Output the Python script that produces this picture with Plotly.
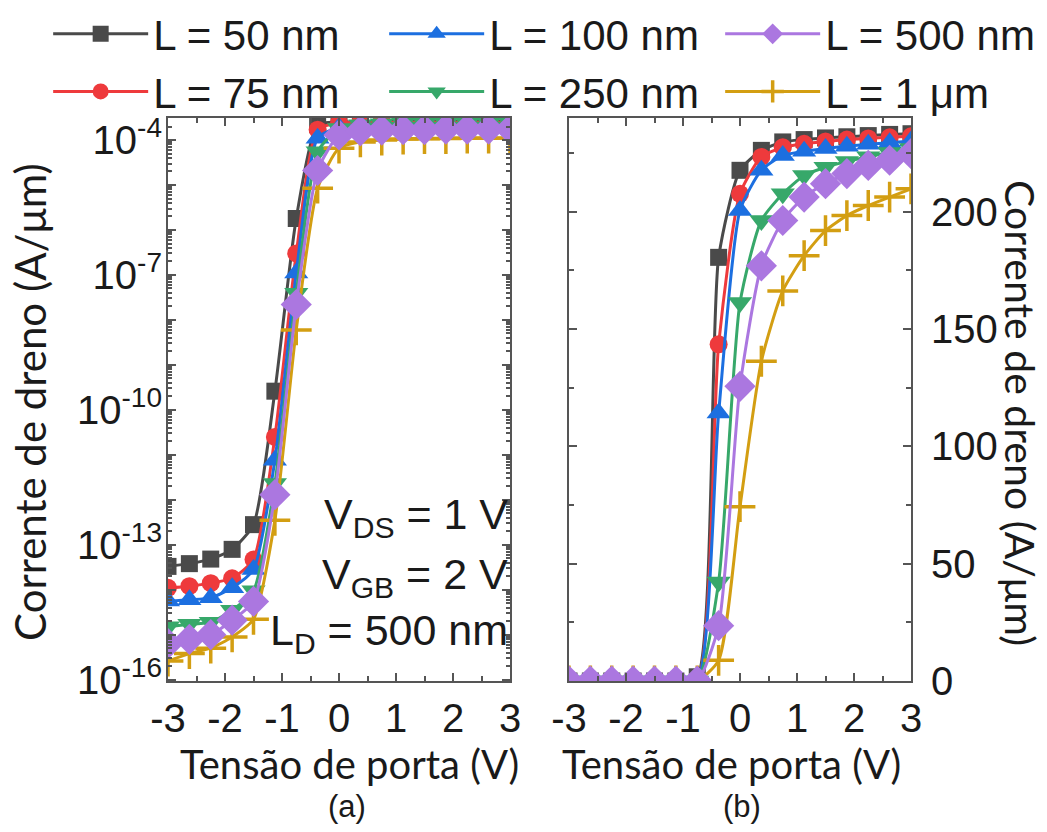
import plotly.graph_objects as go

# Gate voltage sweep (V) shared by both panels
vgs = [-3, -2.625, -2.25, -1.875, -1.5, -1.125, -0.75, -0.375, 0,
       0.375, 0.75, 1.125, 1.5, 1.875, 2.25, 2.625, 3]

labels = ["L = 50 nm", "L = 75 nm", "L = 100 nm", "L = 250 nm", "L = 500 nm", "L = 1 μm"]

# (a) drain current, log scale (A/um)
ids_log_50 = [3.3e-14, 3.8e-14, 4.8e-14, 7.9e-14, 2.8e-13, 2.6e-10, 1.8e-6, 2.2e-4, 2.5e-4,
              2.55e-4, 2.6e-4, 2.6e-4, 2.6e-4, 2.6e-4, 2.6e-4, 2.6e-4, 2.6e-4]
ids_log_75 = [1.1e-14, 1.2e-14, 1.4e-14, 1.8e-14, 4.7e-14, 2.5e-11, 3.0e-7, 1.7e-4, 2.4e-4,
              2.45e-4, 2.5e-4, 2.5e-4, 2.5e-4, 2.5e-4, 2.5e-4, 2.5e-4, 2.5e-4]
ids_log_100 = [5.6e-15, 6.0e-15, 6.6e-15, 1.1e-14, 2.8e-14, 7.6e-12, 1.1e-7, 1.1e-4, 1.9e-4,
               2.2e-4, 2.25e-4, 2.3e-4, 2.3e-4, 2.3e-4, 2.3e-4, 2.3e-4, 2.3e-4]
ids_log_250 = [1.5e-15, 1.7e-15, 1.9e-15, 3.5e-15, 9.5e-15, 2.3e-12, 3.9e-8, 5.5e-5, 1.8e-4,
               2.2e-4, 2.3e-4, 2.35e-4, 2.35e-4, 2.35e-4, 2.35e-4, 2.35e-4, 2.35e-4]
ids_log_500 = [6.3e-16, 7.9e-16, 1.0e-15, 2.1e-15, 5.5e-15, 1.3e-12, 2.2e-8, 2.1e-5, 1.3e-4,
               1.6e-4, 1.65e-4, 1.7e-4, 1.7e-4, 1.75e-4, 1.75e-4, 1.75e-4, 1.75e-4]
ids_log_1000 = [2.6e-16, 3.8e-16, 5.0e-16, 8.9e-16, 2.2e-15, 3.5e-13, 6.0e-9, 8.5e-6, 6.6e-5,
                9.1e-5, 1.0e-4, 1.05e-4, 1.07e-4, 1.08e-4, 1.1e-4, 1.1e-4, 1.1e-4]

# (b) drain current, linear scale
ids_lin_50 = [0, 0, 0, 0, 0, 0, 1.8, 180.6, 217.7, 226.2, 229.8, 230.8, 231.5, 232, 232.5, 233, 233.3]
ids_lin_75 = [0, 0, 0, 0, 0, 0, 0.3, 143.5, 207.7, 223.4, 227.5, 229, 230, 230.8, 231.3, 231.8, 232.2]
ids_lin_100 = [0, 0, 0, 0, 0, 0, 0.1, 114.2, 200.6, 217.7, 224, 225.8, 227, 228, 228.8, 229.5, 230.2]
ids_lin_250 = [0, 0, 0, 0, 0, 0, 0, 42.2, 161.3, 196.3, 207.7, 215.5, 219, 221.5, 223.5, 225.3, 227]
ids_lin_500 = [0, 0, 0, 0, 0, 0, 0, 23.6, 125.6, 177, 196.3, 206.3, 212, 216.3, 219.8, 222, 224.8]
ids_lin_1000 = [0, 0, 0, 0, 0, 0, 0, 8.8, 74.3, 136.3, 166.3, 181.3, 192, 198.4, 202.7, 206.3, 209.8]

log_series = [ids_log_50, ids_log_75, ids_log_100, ids_log_250, ids_log_500, ids_log_1000]
lin_series = [ids_lin_50, ids_lin_75, ids_lin_100, ids_lin_250, ids_lin_500, ids_lin_1000]

colors = ["#4a4a4a", "#ee3a3c", "#1c6fe0", "#37a86a", "#ab77e0", "#d39e12"]
symbols = ["square", "circle", "triangle-up", "triangle-down", "diamond", "cross-thin"]
sizes = [17, 18, 21, 21, 24, 22]
legend_rank = [1, 4, 2, 5, 3, 6]
draw_order = [0, 1, 2, 3, 5, 4]

x_ticks = [-3, -2, -1, 0, 1, 2, 3]
x_text = ["-3", "-2", "-1", "0", "1", "2", "3"]
decades = list(range(-16, -3))
log_ticks = [10.0 ** e for e in decades]
log_text = ["10<sup>%d</sup>" % e if (e + 16) % 3 == 0 else "" for e in decades]
log_minor = [k * 10.0 ** e for e in decades for k in range(2, 10)]
lin_ticks = [0, 50, 100, 150, 200]

fig = go.Figure()

for i in draw_order:
    marker = dict(symbol=symbols[i], size=sizes[i], color=colors[i])
    if symbols[i] == "cross-thin":
        marker["line"] = dict(color=colors[i], width=3.5)
    fig.add_trace(go.Scatter(
        x=vgs, y=log_series[i], mode="lines+markers", name=labels[i],
        line=dict(color=colors[i], width=3, shape="spline", smoothing=0.6),
        marker=marker, legendrank=legend_rank[i], xaxis="x", yaxis="y"))
    fig.add_trace(go.Scatter(
        x=vgs, y=lin_series[i], mode="lines+markers", name=labels[i], showlegend=False,
        line=dict(color=colors[i], width=3, shape="spline", smoothing=0.6),
        marker=marker, xaxis="x2", yaxis="y2"))

axis_common = dict(showline=True, linecolor="#555555", linewidth=2, mirror="ticks",
                   ticks="inside", tickcolor="#555555", tickwidth=2, ticklen=8,
                   showgrid=False, zeroline=False, automargin=False,
                   tickfont=dict(family="Liberation Sans, Arial", size=40, color="#1a1a1a"))

H = 832.0
W = 1047.0
y_dom = [(H - 681) / H, (H - 118) / H]

fig.update_layout(
    width=1047, height=832,
    margin=dict(l=0, r=0, t=0, b=0, autoexpand=False),
    paper_bgcolor="white", plot_bgcolor="white",
    xaxis=dict(domain=[168 / W, 510 / W], range=[-3, 3], anchor="y",
               tickmode="array", tickvals=x_ticks, ticktext=x_text,
               minor=dict(ticks="inside", dtick=0.5, tick0=0, ticklen=5,
                          tickcolor="#555555", tickwidth=2),
               ticklabelstandoff=1, **axis_common),
    yaxis=dict(domain=y_dom, type="log", range=[-16.03, -3.51], anchor="x",
               tickmode="array", tickvals=log_ticks, ticktext=log_text,
               minor=dict(ticks="inside", ticklen=4, tickcolor="#555555", tickwidth=1.5,
                          tickvals=log_minor),
               ticklabelstandoff=-4, **axis_common),
    xaxis2=dict(domain=[569 / W, 911 / W], range=[-3, 3], anchor="y2",
                tickmode="array", tickvals=x_ticks, ticktext=x_text,
                minor=dict(ticks="inside", dtick=0.5, tick0=0, ticklen=5,
                           tickcolor="#555555", tickwidth=2),
                ticklabelstandoff=1, **axis_common),
    yaxis2=dict(domain=y_dom, range=[0, 240], anchor="x2", side="right",
                tickmode="array", tickvals=lin_ticks,
                minor=dict(ticks="inside", dtick=25, tick0=0, ticklen=5,
                           tickcolor="#555555", tickwidth=2),
                ticklabelstandoff=10, **axis_common),
    legend=dict(orientation="h", x=0.046, xanchor="left", y=1.0, yanchor="top",
                font=dict(family="Liberation Sans, Arial", size=42, color="#1a1a1a"),
                itemwidth=95, entrywidth=226, entrywidthmode="pixels",
                tracegroupgap=0, bgcolor="rgba(0,0,0,0)"),
    showlegend=True,
)

title_font = dict(family="Lato, Open Sans", size=40, color="#1a1a1a")
cap_font = dict(family="Liberation Sans, Arial", size=31, color="#1a1a1a")
ann = [
    dict(text="Corrente de dreno (A/μm)", x=30 / W, y=(H - 402) / H, textangle=-90,
         font=dict(family="Lato, Open Sans", size=42, color="#1a1a1a")),
    dict(text="Corrente de dreno (A/μm)", x=1020 / W, y=(H - 413) / H, textangle=90,
         font=dict(family="Lato, Open Sans", size=41, color="#1a1a1a")),
    dict(text="Tensão de porta (V)", x=349 / W, y=(H - 764) / H, font=title_font),
    dict(text="Tensão de porta (V)", x=731 / W, y=(H - 764) / H, font=title_font),
    dict(text="(a)", x=347 / W, y=(H - 806) / H, font=cap_font),
    dict(text="(b)", x=742 / W, y=(H - 806) / H, font=cap_font),
]
for a in ann:
    fig.add_annotation(xref="paper", yref="paper", showarrow=False,
                       xanchor="center", yanchor="middle", **a)

cond_font = dict(family="Liberation Sans, Arial", size=43, color="#1a1a1a")
for txt, yp in [("V<sub>DS</sub> = 1 V", 517), ("V<sub>GB</sub> = 2 V", 577),
                ("L<sub>D</sub> = 500 nm", 633)]:
    fig.add_annotation(text=txt, x=510 / W, y=(H - yp) / H, xref="paper", yref="paper",
                       xanchor="right", yanchor="middle", showarrow=False, font=cond_font)

fig.write_html("out.html")
